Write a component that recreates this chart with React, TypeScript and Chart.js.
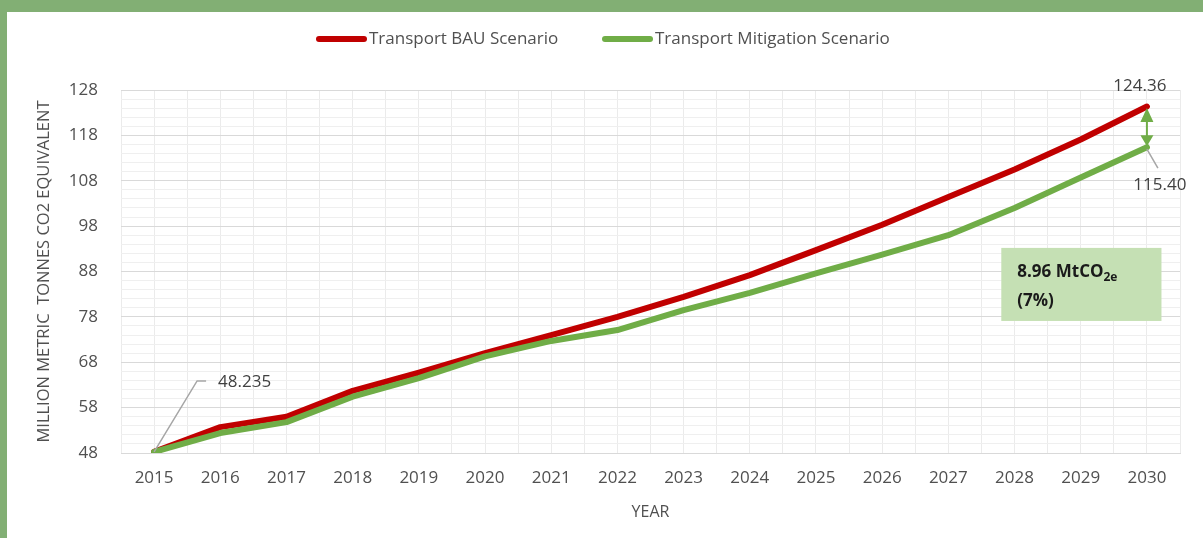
import { useEffect, useRef } from 'react';
import { Chart, registerables } from 'chart.js';

Chart.register(...registerables);

const years = [2015, 2016, 2017, 2018, 2019, 2020, 2021, 2022, 2023, 2024, 2025, 2026, 2027, 2028, 2029, 2030];
const bauValues = [48.235, 53.7, 56.0, 61.7, 65.7, 70.0, 74.0, 78.0, 82.4, 87.2, 92.7, 98.3, 104.4, 110.5, 117.1, 124.36];
const mitigationValues = [48.235, 52.4, 54.8, 60.4, 64.5, 69.3, 72.7, 75.1, 79.5, 83.3, 87.6, 91.7, 96.0, 102.0, 108.7, 115.4];
const seriesNames = ['Transport BAU Scenario', 'Transport Mitigation Scenario'];
const seriesColors = ['#C00000', '#70AD47'];
const yMin = 48;
const yMax = 128;
const yMajorStep = 10;
const yMinorStep = 2;
const yAxisTitle = 'MILLION METRIC  TONNES CO2 EQUIVALENT';
const xAxisTitle = 'YEAR';
const startLabel = '48.235';
const endBauLabel = '124.36';
const endMitigationLabel = '115.40';
const gapLabelMain = '8.96 MtCO';
const gapLabelSub = '2e';
const gapLabelPct = '(7%)';

const FONT = '"Open Sans", "DejaVu Sans", sans-serif';
const TEXT = '#505050';

const legendPlugin = {
  id: 'customLegend',
  afterDraw(chart: any) {
    const ctx = chart.ctx;
    ctx.save();
    ctx.font = `17px ${FONT}`;
    ctx.textBaseline = 'middle';
    ctx.textAlign = 'left';
    const y = 27;
    const items = [
      { x: 312, name: seriesNames[0], color: seriesColors[0] },
      { x: 598, name: seriesNames[1], color: seriesColors[1] },
    ];
    items.forEach((it) => {
      ctx.strokeStyle = it.color;
      ctx.lineWidth = 6;
      ctx.lineCap = 'round';
      ctx.beginPath();
      ctx.moveTo(it.x, y);
      ctx.lineTo(it.x + 45, y);
      ctx.stroke();
      ctx.fillStyle = TEXT;
      ctx.fillText(it.name, it.x + 50, y);
    });
    ctx.restore();
  },
};

const annotationPlugin = {
  id: 'annotations',
  afterDatasetsDraw(chart: any) {
    const ctx = chart.ctx;
    const xs = chart.scales.x;
    const ys = chart.scales.y;
    const last = years.length - 1;
    const p0x = xs.getPixelForValue(years[0]);
    const p0y = ys.getPixelForValue(bauValues[0]);
    const pex = xs.getPixelForValue(years[last]);
    const pBau = ys.getPixelForValue(bauValues[last]);
    const pMit = ys.getPixelForValue(mitigationValues[last]);
    ctx.save();

    ctx.strokeStyle = '#a6a6a6';
    ctx.lineWidth = 1.5;
    ctx.beginPath();
    ctx.moveTo(p0x, p0y);
    ctx.lineTo(p0x + 43, p0y - 71);
    ctx.lineTo(p0x + 52, p0y - 71);
    ctx.stroke();
    ctx.fillStyle = '#404040';
    ctx.font = `17px ${FONT}`;
    ctx.textBaseline = 'middle';
    ctx.textAlign = 'left';
    ctx.fillText(startLabel, p0x + 64, p0y - 70);

    ctx.textAlign = 'center';
    ctx.fillText(endBauLabel, pex - 7, pBau - 20);
    ctx.beginPath();
    ctx.moveTo(pex, pMit + 2);
    ctx.lineTo(pex + 11, pMit + 21);
    ctx.stroke();
    ctx.fillText(endMitigationLabel, pex + 13, pMit + 38);

    const green = seriesColors[1];
    ctx.strokeStyle = green;
    ctx.fillStyle = green;
    ctx.lineWidth = 2;
    const top = pBau + 1.5;
    const bot = pMit - 1;
    ctx.beginPath();
    ctx.moveTo(pex, top + 12);
    ctx.lineTo(pex, bot - 10);
    ctx.stroke();
    ctx.beginPath();
    ctx.moveTo(pex, top);
    ctx.lineTo(pex - 6.5, top + 14);
    ctx.lineTo(pex + 6.5, top + 14);
    ctx.closePath();
    ctx.fill();
    ctx.beginPath();
    ctx.moveTo(pex, bot);
    ctx.lineTo(pex - 6.5, bot - 11);
    ctx.lineTo(pex + 6.5, bot - 11);
    ctx.closePath();
    ctx.fill();

    const bl = xs.getPixelForValue(2027.8);
    const br = xs.getPixelForValue(2030.22);
    const bt = ys.getPixelForValue(93.2);
    const bb = ys.getPixelForValue(77.1);
    ctx.fillStyle = '#C5E0B4';
    ctx.fillRect(bl, bt, br - bl, bb - bt);
    ctx.fillStyle = '#1a1a1a';
    ctx.textAlign = 'left';
    ctx.textBaseline = 'alphabetic';
    ctx.font = `bold 17px ${FONT}`;
    const tx = bl + 16;
    const l1 = bt + 29;
    ctx.fillText(gapLabelMain, tx, l1);
    const w = ctx.measureText(gapLabelMain).width;
    ctx.font = `bold 12px ${FONT}`;
    ctx.fillText(gapLabelSub, tx + w, l1 + 4);
    ctx.font = `bold 17px ${FONT}`;
    ctx.fillText(gapLabelPct, tx, l1 + 29);

    ctx.restore();
  },
};

export default function App() {
  const ref = useRef<HTMLCanvasElement | null>(null);
  useEffect(() => {
    if (!ref.current) return;
    const chart = new Chart(ref.current, {
      type: 'line',
      data: {
        datasets: [
          {
            label: seriesNames[0],
            data: years.map((x, i) => ({ x, y: bauValues[i] })),
            borderColor: seriesColors[0],
            backgroundColor: seriesColors[0],
            borderWidth: 6,
            pointRadius: 0,
            borderCapStyle: 'round',
            borderJoinStyle: 'round',
            tension: 0,
            order: 2,
          },
          {
            label: seriesNames[1],
            data: years.map((x, i) => ({ x, y: mitigationValues[i] })),
            borderColor: seriesColors[1],
            backgroundColor: seriesColors[1],
            borderWidth: 6,
            pointRadius: 0,
            borderCapStyle: 'round',
            borderJoinStyle: 'round',
            tension: 0,
            order: 1,
          },
        ],
      },
      options: {
        animation: false,
        responsive: false,
        maintainAspectRatio: false,
        layout: { padding: { top: 78, right: 23, bottom: 0, left: 0 } },
        plugins: {
          legend: { display: false },
          tooltip: { enabled: false },
        },
        scales: {
          x: {
            type: 'linear',
            min: years[0] - 0.5,
            max: years[years.length - 1] + 0.5,
            afterFit: (s: any) => { s.height = 85; },
            ticks: {
              stepSize: 0.5,
              autoSkip: false,
              maxRotation: 0,
              padding: 15,
              color: TEXT,
              font: { family: FONT, size: 17 },
              callback: (v: any) => (Number.isInteger(v) ? String(v) : ''),
            },
            grid: { color: '#ebebeb', lineWidth: 1, drawTicks: false },
            border: { display: true, color: '#d9d9d9', width: 1 },
            title: {
              display: true,
              text: xAxisTitle,
              color: TEXT,
              font: { family: FONT, size: 16 },
              padding: { top: 0, bottom: 16 },
            },
          },
          y: {
            type: 'linear',
            min: yMin,
            max: yMax,
            afterFit: (s: any) => { s.width = 114; },
            ticks: {
              stepSize: yMinorStep,
              autoSkip: false,
              padding: 23,
              color: TEXT,
              font: { family: FONT, size: 17 },
              callback: (v: any) => ((v - yMin) % yMajorStep === 0 ? String(v) : ''),
            },
            grid: {
              color: (c: any) => (((c.tick?.value ?? 0) - yMin) % yMajorStep === 0 ? '#d9d9d9' : '#efefef'),
              lineWidth: 1,
              drawTicks: false,
            },
            border: { display: false },
            title: {
              display: true,
              text: yAxisTitle,
              color: TEXT,
              font: { family: FONT, size: 16.5 },
              padding: { top: 27, bottom: 0 },
            },
          },
        },
      },
      plugins: [legendPlugin, annotationPlugin],
    } as any);
    return () => chart.destroy();
  }, []);

  return (
    <div style={{ position: 'fixed', left: 0, top: 0, width: 1203, height: 538, background: '#82AF74' }}>
      <div style={{ position: 'absolute', left: 7, top: 12, width: 1196, height: 526, background: '#ffffff' }}>
        <canvas ref={ref} width={1196} height={526} style={{ display: 'block', width: 1196, height: 526 }} />
      </div>
    </div>
  );
}
